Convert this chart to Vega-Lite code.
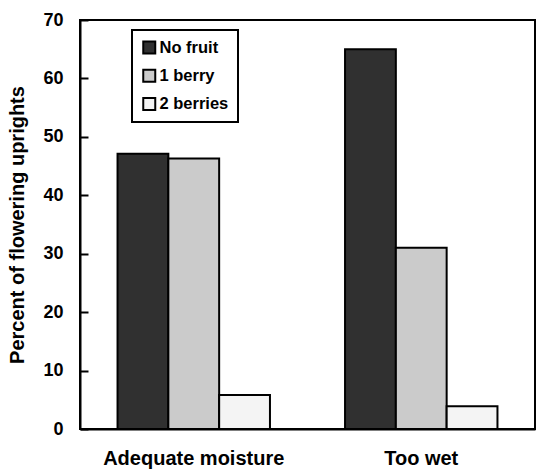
{
  "$schema": "https://vega.github.io/schema/vega-lite/v6.json",
  "width": 455,
  "height": 409,
  "autosize": "none",
  "padding": {"left": 80, "top": 20, "right": 1, "bottom": 43},
  "background": "white",
  "config": {
    "font": "Liberation Sans",
    "view": {"stroke": "black", "strokeWidth": 2}
  },
  "data": {
    "values": [
      {"condition": "Adequate moisture", "fruit": "No fruit", "percent": 47.1},
      {"condition": "Adequate moisture", "fruit": "1 berry", "percent": 46.3},
      {"condition": "Adequate moisture", "fruit": "2 berries", "percent": 5.8},
      {"condition": "Too wet", "fruit": "No fruit", "percent": 65.0},
      {"condition": "Too wet", "fruit": "1 berry", "percent": 31.0},
      {"condition": "Too wet", "fruit": "2 berries", "percent": 3.9}
    ]
  },
  "mark": {"type": "bar", "stroke": "black", "strokeWidth": 2},
  "encoding": {
    "x": {
      "field": "condition",
      "type": "nominal",
      "sort": null,
      "scale": {"paddingInner": 0.33, "paddingOuter": 0.165},
      "axis": {
        "title": null,
        "labelAngle": 0,
        "ticks": false,
        "domainColor": "black",
        "domainWidth": 2,
        "labelFontSize": 20,
        "labelFontWeight": "bold",
        "labelColor": "black",
        "labelPadding": 19,
        "labelLimit": 400
      }
    },
    "xOffset": {"field": "fruit", "type": "nominal", "sort": ["No fruit", "1 berry", "2 berries"]},
    "y": {
      "field": "percent",
      "type": "quantitative",
      "scale": {"domain": [0, 70], "nice": false},
      "axis": {
        "title": "Percent of flowering uprights",
        "titleFontSize": 20,
        "titleFontWeight": "bold",
        "titleColor": "black",
        "titlePadding": 15,
        "values": [0, 10, 20, 30, 40, 50, 60, 70],
        "grid": false,
        "tickSize": -8,
        "tickColor": "black",
        "tickWidth": 2,
        "domainColor": "black",
        "domainWidth": 2,
        "labelFontSize": 18,
        "labelFontWeight": "bold",
        "labelColor": "black",
        "labelPadding": 25
      }
    },
    "fill": {
      "field": "fruit",
      "type": "nominal",
      "sort": ["No fruit", "1 berry", "2 berries"],
      "scale": {"range": ["#303030", "#cbcbcb", "#f4f4f4"]},
      "legend": {
        "title": null,
        "orient": "none",
        "legendX": 52,
        "legendY": 10,
        "strokeColor": "black",
        "fillColor": "white",
        "padding": 9,
        "symbolType": "square",
        "symbolSize": 144,
        "symbolStrokeColor": "black",
        "symbolStrokeWidth": 2,
        "symbolOpacity": 1,
        "labelFontSize": 16.5,
        "labelFontWeight": "bold",
        "labelColor": "black",
        "labelOffset": 2,
        "clipHeight": 17,
        "rowPadding": 11.3,
        "encode": {"legend": {"update": {"strokeWidth": {"value": 2}}}}
      }
    }
  }
}
